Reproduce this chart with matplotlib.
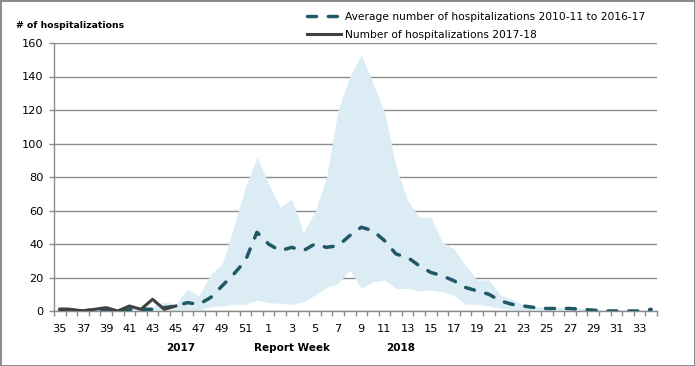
import matplotlib.pyplot as plt
import numpy as np
from matplotlib.transforms import blended_transform_factory

# Report weeks: 35..52 of 2017, then 1..34 of 2018
weeks = list(range(35, 53)) + list(range(1, 35))

avg_hosp = [1, 1, 0, 1, 1, 0, 1, 1, 1, 2, 3, 5, 4, 8, 15, 22, 30, 47,
            40, 36, 38, 36, 40, 38, 39, 45, 50, 48, 42, 34, 32, 27, 23, 21,
            18, 14, 12, 10, 6, 4, 3, 2, 1.5, 1.5, 1.5, 1, 0.5, 0, 0, 0, 0, 1]
band_upper = [1, 1, 1, 1, 1, 1, 2, 2, 3, 5.5, 4, 13, 9, 22, 28, 50, 74, 92,
              76, 62, 67, 47, 59, 80, 120, 140, 153, 136, 119, 86, 66, 56, 56, 41,
              37, 27, 18.5, 18.5, 9.5, 7, 3.6, 2.6, 2.5, 2, 2, 1.5, 1, 0.5, 0.5, 0, 0, 1]
band_lower = [0, 0, 0, 0, 0, 0, 0, 0, 0, 0, 0, 0, 0, 2.6, 3, 4, 4, 6.6,
              5, 4.5, 4, 5.6, 9.5, 14, 16.5, 24.5, 13.5, 17.5, 18.5, 13.5, 13.5, 12, 12.5, 11.5,
              9.5, 4, 4, 3, 1.6, 1, 0, 0, 0, 0, 0, 0, 0, 0, 0, 0, 0, 0]
current_hosp = [1, 1, 0, 1, 2, 0, 3, 1, 7, 1, 3]

yticks = [0, 20, 40, 60, 80, 100, 120, 140, 160]
year_labels = [("2017", 10.4), ("Report Week", 20.0), ("2018", 29.4)]

fill_color = "#dbecf4"
avg_color = "#215868"
cur_color = "#404040"
grid_color = "#8c8c8c"

plt.rcParams["font.family"] = ["DejaVu Sans"]

fig = plt.figure(figsize=(6.95, 3.66), dpi=100)
fig.patch.set_edgecolor("#8c8c8c")
fig.patch.set_linewidth(1)
ax = fig.add_axes([54 / 695, 1 - 311 / 366, 603 / 695, 268 / 366])

x = np.arange(len(weeks))
ax.fill_between(x, band_lower, band_upper, color=fill_color, linewidth=0, zorder=1)
ax.plot(x, avg_hosp, color=avg_color, linewidth=2.5, linestyle=(0, (2.6, 3.4)),
        dash_capstyle="round", zorder=3,
        label="Average number of hospitalizations 2010-11 to 2016-17")
ax.plot(x[:len(current_hosp)], current_hosp, color=cur_color, linewidth=2.2, zorder=4,
        label="Number of hospitalizations 2017-18")

ax.set_xlim(-0.5, len(weeks) - 0.5)
ax.set_ylim(0, 160)
ax.set_yticks(yticks)
ax.yaxis.grid(True, color=grid_color, linewidth=1)
ax.set_axisbelow(True)

ax.set_xticks(x[::2])
ax.set_xticklabels([str(w) for w in weeks[::2]])
ax.set_xticks(np.arange(-0.5, len(weeks)), minor=True)
ax.tick_params(axis="x", which="major", length=0, pad=9, labelsize=8.2, colors="black")
ax.tick_params(axis="x", which="minor", length=3.6, color=grid_color, width=1)
ax.tick_params(axis="y", length=3.6, color=grid_color, width=1, pad=4, labelsize=8.2)

for side in ["top", "right"]:
    ax.spines[side].set_visible(False)
for side in ["left", "bottom"]:
    ax.spines[side].set_color(grid_color)
    ax.spines[side].set_linewidth(1)

trans = blended_transform_factory(ax.transData, fig.transFigure)
for text, xpos in year_labels:
    ax.text(xpos, 1 - 348 / 366, text, transform=trans, ha="center", va="center",
            fontsize=7.5, fontweight="bold")

fig.text(16 / 695, 1 - 26 / 366, "# of hospitalizations", ha="left", va="center",
         fontsize=6.7, fontweight="bold")

ax.legend(loc="upper left", bbox_to_anchor=(304 / 695, 1 - 9 / 366),
          bbox_transform=fig.transFigure, frameon=False, fontsize=7.7,
          handlelength=3.2, handletextpad=0.3, labelspacing=0.75,
          borderaxespad=0, borderpad=0.3)

fig.savefig("out.png", dpi=100)
